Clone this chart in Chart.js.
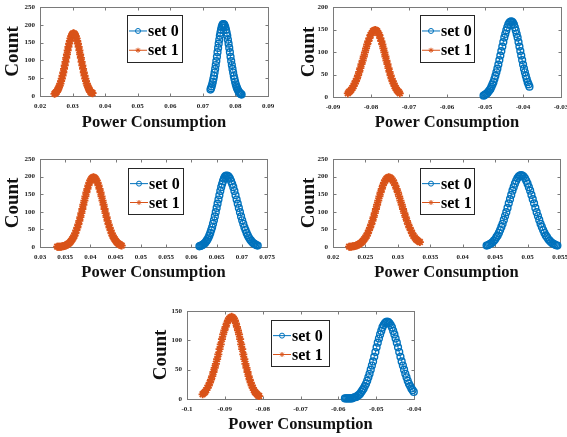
<!DOCTYPE html>
<html>
<head>
<meta charset="utf-8">
<script src="https://cdn.jsdelivr.net/npm/chart.js@4.4.1/dist/chart.umd.min.js"></script>
<style>
  html, body { margin: 0; padding: 0; background: #fff; }
  body { position: relative; width: 567px; height: 437px; overflow: hidden; }
  canvas { position: absolute; }
</style>
</head>
<body>
<canvas id="c1" width="285" height="135" style="left:0px;top:0px"></canvas>
<canvas id="c2" width="282" height="135" style="left:285px;top:0px"></canvas>
<canvas id="c3" width="285" height="145" style="left:0px;top:140px"></canvas>
<canvas id="c4" width="282" height="145" style="left:285px;top:140px"></canvas>
<canvas id="c5" width="290" height="147" style="left:140px;top:290px"></canvas>
<script>
// series labels and axis titles
const seriesLabels = ['set 0', 'set 1'];
const xTitle = 'Power Consumption';
const yTitle = 'Count';

// panel 1 (top left)
const p1Set0X = [0.07234, 0.07252, 0.07270, 0.07288, 0.07306, 0.07324, 0.07342, 0.07360, 0.07378, 0.07396, 0.07414, 0.07432, 0.07450, 0.07468, 0.07486, 0.07504, 0.07522, 0.07540, 0.07558, 0.07576, 0.07594, 0.07612,
    0.07630, 0.07650, 0.07670, 0.07690, 0.07710, 0.07730, 0.07750, 0.07770, 0.07790, 0.07810, 0.07830, 0.07850, 0.07870, 0.07890, 0.07910, 0.07930, 0.07950, 0.07970, 0.07990, 0.08010, 0.08030, 0.08050, 0.08070, 0.08090, 0.08110, 0.08130, 0.08150, 0.08170, 0.08190];
const p1Set0Y = [18, 22, 27, 33, 40, 48, 56, 66, 76, 87, 98, 110, 123, 135, 147, 158, 169, 178, 186, 193, 198, 201,
    202, 201, 198, 193, 186, 178, 169, 158, 147, 135, 123, 110, 98, 87, 76, 66, 56, 48, 40, 33, 27, 22, 18, 14, 11, 9, 7, 5, 4];
const p1Set1X = [0.02445, 0.024675, 0.0249, 0.025125, 0.02535, 0.025575, 0.0258, 0.026025, 0.02625, 0.026475, 0.0267, 0.026925, 0.02715, 0.027375, 0.0276, 0.027825, 0.02805, 0.028275, 0.0285, 0.028725, 0.02895, 0.029175, 0.0294, 0.029625, 0.02985, 0.030075,
    0.0303, 0.030525, 0.03075, 0.030975, 0.0312, 0.031425, 0.03165, 0.031875, 0.0321, 0.032325, 0.03255, 0.032775, 0.033, 0.033225, 0.03345, 0.033675, 0.0339, 0.034125, 0.03435, 0.034575, 0.0348, 0.035025, 0.03525, 0.035475, 0.0357, 0.035925, 0.03615];
const p1Set1Y = [6, 8, 10, 12, 16, 19, 24, 29, 35, 42, 49, 57, 66, 76, 86, 96, 107, 117, 128, 138, 147, 155, 162, 168, 172, 175,
    176, 175, 172, 168, 162, 155, 147, 138, 128, 117, 107, 96, 86, 76, 66, 57, 49, 42, 35, 29, 24, 19, 16, 12, 10, 9, 8];

// panel 2 (top right)
const p2Set0X = [-0.05038, -0.05012, -0.04986, -0.04960, -0.04934, -0.04908, -0.04882, -0.04856, -0.04830, -0.04804, -0.04778, -0.04752, -0.04726, -0.04700, -0.04674, -0.04648, -0.04622, -0.04596, -0.04570, -0.04544, -0.04518, -0.04492, -0.04466, -0.04440, -0.04414, -0.04388, -0.04362, -0.04336,
    -0.04310, -0.04286, -0.04262, -0.04238, -0.04214, -0.04190, -0.04166, -0.04142, -0.04118, -0.04094, -0.04070, -0.04046, -0.04022, -0.03998, -0.03974, -0.03950, -0.03926, -0.03902, -0.03878, -0.03854, -0.03830];
const p2Set0Y = [3, 4, 6, 7, 9, 12, 15, 18, 23, 28, 33, 40, 47, 55, 63, 72, 82, 92, 102, 112, 122, 132, 140, 148, 155, 161, 165, 167,
    168, 167, 165, 161, 155, 148, 140, 132, 122, 112, 102, 92, 82, 72, 63, 55, 47, 40, 33, 28, 23];
const p2Set1X = [-0.0861, -0.0858, -0.0855, -0.0852, -0.0849, -0.0846, -0.0843, -0.0840, -0.0837, -0.0834, -0.0831, -0.0828, -0.0825, -0.0822, -0.0819, -0.0816, -0.0813, -0.0810, -0.0807, -0.0804, -0.0801, -0.0798, -0.0795, -0.0792,
    -0.0789, -0.07863, -0.07836, -0.07809, -0.07782, -0.07755, -0.07728, -0.07701, -0.07674, -0.07647, -0.07620, -0.07593, -0.07566, -0.07539, -0.07512, -0.07485, -0.07458, -0.07431, -0.07404, -0.07377, -0.07350, -0.07323, -0.07296, -0.07269, -0.07242];
const p2Set1Y = [8, 11, 13, 16, 20, 24, 30, 35, 41, 48, 56, 64, 73, 81, 90, 99, 108, 117, 124, 131, 138, 142, 146, 148,
    149, 148, 146, 142, 138, 131, 124, 117, 108, 99, 90, 81, 73, 64, 56, 48, 41, 35, 30, 24, 20, 16, 13, 11, 8];

// panel 3 (middle left)
const p3Set0X = [0.06160, 0.06178, 0.06196, 0.06214, 0.06232, 0.06250, 0.06268, 0.06286, 0.06304, 0.06322, 0.06340, 0.06358, 0.06376, 0.06394, 0.06412, 0.06430, 0.06448, 0.06466, 0.06484, 0.06502, 0.06520, 0.06538, 0.06556, 0.06574, 0.06592, 0.06610, 0.06628, 0.06646, 0.06664, 0.06682,
    0.06700, 0.06722, 0.06744, 0.06766, 0.06788, 0.06810, 0.06832, 0.06854, 0.06876, 0.06898, 0.06920, 0.06942, 0.06964, 0.06986, 0.07008, 0.07030, 0.07052, 0.07074, 0.07096, 0.07118, 0.07140, 0.07162, 0.07184, 0.07206, 0.07228, 0.07250, 0.07272, 0.07294, 0.07316];
const p3Set0Y = [2, 3, 4, 5, 7, 9, 11, 14, 18, 22, 27, 33, 40, 48, 56, 66, 76, 87, 99, 111, 123, 135, 147, 159, 170, 179, 187, 194, 199, 202,
    203, 202, 199, 194, 187, 179, 170, 159, 147, 135, 123, 111, 99, 87, 76, 66, 56, 48, 40, 33, 27, 22, 18, 14, 11, 9, 7, 5, 4];
const p3Set1X = [0.0334, 0.0336, 0.0338, 0.0340, 0.0342, 0.0344, 0.0346, 0.0348, 0.0350, 0.0352, 0.0354, 0.0356, 0.0358, 0.0360, 0.0362, 0.0364, 0.0366, 0.0368, 0.0370, 0.0372, 0.0374, 0.0376, 0.0378, 0.0380, 0.0382, 0.0384, 0.0386, 0.0388, 0.0390, 0.0392, 0.0394, 0.0396, 0.0398, 0.0400, 0.0402, 0.0404,
    0.0406, 0.0408, 0.0410, 0.0412, 0.0414, 0.0416, 0.0418, 0.0420, 0.0422, 0.0424, 0.0426, 0.0428, 0.0430, 0.0432, 0.0434, 0.0436, 0.0438, 0.0440, 0.0442, 0.0444, 0.0446, 0.0448, 0.0450, 0.0452, 0.0454, 0.0456, 0.0458, 0.0460, 0.0462];
const p3Set1Y = [1, 1, 1, 1, 1, 2, 2, 3, 4, 5, 7, 9, 11, 14, 18, 22, 27, 32, 39, 47, 55, 64, 74, 85, 96, 108, 120, 132, 144, 155, 165, 175, 183, 189, 194, 197,
    198, 197, 194, 189, 183, 175, 165, 155, 144, 132, 120, 108, 96, 85, 74, 64, 55, 47, 39, 32, 27, 22, 18, 14, 11, 9, 7, 5, 4];

// panel 4 (middle right)
const p4Set0X = [0.04368, 0.04387, 0.04406, 0.04425, 0.04444, 0.04463, 0.04482, 0.04501, 0.04520, 0.04539, 0.04558, 0.04577, 0.04596, 0.04615, 0.04634, 0.04653, 0.04672, 0.04691, 0.04710, 0.04729, 0.04748, 0.04767, 0.04786, 0.04805, 0.04824, 0.04843, 0.04862, 0.04881,
    0.04900, 0.04920, 0.04940, 0.04960, 0.04980, 0.05000, 0.05020, 0.05040, 0.05060, 0.05080, 0.05100, 0.05120, 0.05140, 0.05160, 0.05180, 0.05200, 0.05220, 0.05240, 0.05260, 0.05280, 0.05300, 0.05320, 0.05340, 0.05360, 0.05380, 0.05400, 0.05420, 0.05440, 0.05460];
const p4Set0Y = [4, 5, 7, 9, 11, 14, 18, 22, 28, 33, 40, 48, 57, 66, 77, 88, 99, 111, 124, 136, 148, 160, 170, 180, 188, 195, 200, 203,
    204, 203, 200, 195, 188, 180, 170, 160, 148, 136, 124, 111, 99, 88, 77, 66, 57, 48, 40, 33, 28, 22, 18, 14, 11, 9, 7, 5, 4];
const p4Set1X = [0.02248, 0.02266, 0.02284, 0.02302, 0.02320, 0.02338, 0.02356, 0.02374, 0.02392, 0.02410, 0.02428, 0.02446, 0.02464, 0.02482, 0.02500, 0.02518, 0.02536, 0.02554, 0.02572, 0.02590, 0.02608, 0.02626, 0.02644, 0.02662, 0.02680, 0.02698, 0.02716, 0.02734, 0.02752, 0.02770, 0.02788, 0.02806, 0.02824, 0.02842,
    0.02860, 0.02880, 0.02900, 0.02920, 0.02940, 0.02960, 0.02980, 0.03000, 0.03020, 0.03040, 0.03060, 0.03080, 0.03100, 0.03120, 0.03140, 0.03160, 0.03180, 0.03200, 0.03220, 0.03240, 0.03260, 0.03280, 0.03300, 0.03320, 0.03340];
const p4Set1Y = [1, 1, 1, 2, 2, 3, 4, 5, 7, 9, 11, 14, 18, 22, 27, 32, 39, 47, 55, 64, 74, 85, 96, 108, 120, 132, 144, 155, 165, 175, 183, 189, 194, 197,
    198, 197, 194, 189, 183, 175, 165, 155, 144, 132, 120, 108, 96, 85, 74, 64, 55, 47, 39, 32, 27, 22, 19, 16, 14];

// panel 5 (bottom)
const p5Set0X = [-0.05826, -0.05795, -0.05764, -0.05733, -0.05702, -0.05671, -0.05640, -0.05609, -0.05578, -0.05547, -0.05516, -0.05485, -0.05454, -0.05423, -0.05392, -0.05361, -0.05330, -0.05299, -0.05268, -0.05237, -0.05206, -0.05175, -0.05144, -0.05113, -0.05082, -0.05051, -0.05020, -0.04989, -0.04958, -0.04927, -0.04896, -0.04865, -0.04834, -0.04803, -0.04772, -0.04741,
    -0.04710, -0.04678, -0.04646, -0.04614, -0.04582, -0.04550, -0.04518, -0.04486, -0.04454, -0.04422, -0.04390, -0.04358, -0.04326, -0.04294, -0.04262, -0.04230, -0.04198, -0.04166, -0.04134, -0.04102, -0.04070, -0.04038, -0.04006];
const p5Set0Y = [1, 1, 1, 1, 1, 1, 1, 2, 3, 3, 4, 6, 7, 9, 12, 15, 18, 22, 26, 31, 37, 43, 50, 57, 64, 72, 80, 88, 96, 103, 110, 116, 122, 126, 129, 131,
    132, 131, 129, 126, 122, 116, 110, 103, 96, 88, 80, 72, 64, 57, 50, 43, 37, 31, 26, 22, 18, 15, 12];
const p5Set1X = [-0.09588, -0.09556, -0.09524, -0.09492, -0.09460, -0.09428, -0.09396, -0.09364, -0.09332, -0.09300, -0.09268, -0.09236, -0.09204, -0.09172, -0.09140, -0.09108, -0.09076, -0.09044, -0.09012, -0.08980, -0.08948, -0.08916, -0.08884, -0.08852,
    -0.08820, -0.08792, -0.08764, -0.08736, -0.08708, -0.08680, -0.08652, -0.08624, -0.08596, -0.08568, -0.08540, -0.08512, -0.08484, -0.08456, -0.08428, -0.08400, -0.08372, -0.08344, -0.08316, -0.08288, -0.08260, -0.08232, -0.08204, -0.08176, -0.08148, -0.08120, -0.08092];
const p5Set1Y = [8, 10, 12, 15, 19, 23, 28, 33, 39, 46, 53, 60, 68, 76, 85, 93, 102, 110, 117, 123, 129, 134, 137, 139,
    140, 139, 137, 134, 129, 123, 117, 110, 102, 93, 85, 76, 68, 60, 53, 46, 39, 33, 28, 23, 19, 15, 12, 10, 8, 6, 5];

// axis ranges per panel: [xMin, xMax, xStep, yMax]
const p1Axis = [0.02, 0.09, 0.01, 250];
const p2Axis = [-0.09, -0.03, 0.01, 200];
const p3Axis = [0.03, 0.075, 0.005, 250];
const p4Axis = [0.02, 0.055, 0.005, 250];
const p5Axis = [-0.1, -0.04, 0.01, 150];

const blue = '#0072BD';
const orange = '#D95319';
const serif = '"Liberation Serif", "Times New Roman", serif';

// layout: canvas id, plot area [left, top, right, bottom], legend box [x, y, w, h], y-title pad
const panels = [
    { id: 'c1', axis: p1Axis, s0: [p1Set0X, p1Set0Y], s1: [p1Set1X, p1Set1Y], area: [40, 7, 268, 96], legend: [127, 15, 55, 47], yPad: 2 },
    { id: 'c2', axis: p2Axis, s0: [p2Set0X, p2Set0Y], s1: [p2Set1X, p2Set1Y], area: [48, 7, 276, 97], legend: [135, 15, 54, 47], yPad: 13 },
    { id: 'c3', axis: p3Axis, s0: [p3Set0X, p3Set0Y], s1: [p3Set1X, p3Set1Y], area: [40, 19, 267, 107], legend: [128, 28, 55, 46], yPad: 2 },
    { id: 'c4', axis: p4Axis, s0: [p4Set0X, p4Set0Y], s1: [p4Set1X, p4Set1Y], area: [48, 19, 275, 107], legend: [135, 28, 54, 46], yPad: 13 },
    { id: 'c5', axis: p5Axis, s0: [p5Set0X, p5Set0Y], s1: [p5Set1X, p5Set1Y], area: [47, 21, 274, 109], legend: [131, 30, 58, 46], yPad: 10 }
];

function toPoints(xs, ys) {
    return xs.map((x, i) => ({ x: x, y: ys[i] }));
}

function drawMarker(ctx, style, x, y, r) {
    ctx.beginPath();
    if (style === 'circle') {
        ctx.arc(x, y, r, 0, Math.PI * 2);
    } else {
        for (let k = 0; k < 4; k++) {
            const a = k * Math.PI / 4;
            ctx.moveTo(x - r * Math.cos(a), y - r * Math.sin(a));
            ctx.lineTo(x + r * Math.cos(a), y + r * Math.sin(a));
        }
    }
    ctx.stroke();
}

// matlab-like box with inner ticks + legend inside the axes
const boxPlugin = {
    id: 'matlabBox',
    beforeDatasetsDraw(chart) {
        const { ctx, chartArea: a, scales } = chart;
        ctx.save();
        ctx.strokeStyle = '#7a7a7a';
        ctx.lineWidth = 1;
        const l = Math.round(a.left) + 0.5, t = Math.round(a.top) + 0.5;
        const r = Math.round(a.right) + 0.5, b = Math.round(a.bottom) + 0.5;
        ctx.strokeRect(l, t, r - l, b - t);
        ctx.beginPath();
        scales.x.ticks.forEach(tk => {
            const px = Math.round(scales.x.getPixelForValue(tk.value)) + 0.5;
            ctx.moveTo(px, b); ctx.lineTo(px, b - 3);
            ctx.moveTo(px, t); ctx.lineTo(px, t + 3);
        });
        scales.y.ticks.forEach(tk => {
            const py = Math.round(scales.y.getPixelForValue(tk.value)) + 0.5;
            ctx.moveTo(l, py); ctx.lineTo(l + 3, py);
            ctx.moveTo(r, py); ctx.lineTo(r - 3, py);
        });
        ctx.stroke();
        ctx.restore();
    },
    afterDraw(chart, args, opts) {
        const ctx = chart.ctx;
        const [lx, ly, w, h] = opts.box;
        ctx.save();
        ctx.fillStyle = '#fff';
        ctx.fillRect(lx, ly, w, h);
        ctx.strokeStyle = '#262626';
        ctx.lineWidth = 1;
        ctx.strokeRect(lx + 0.5, ly + 0.5, w, h);
        const rows = [ly + h * 0.34, ly + h * 0.75];
        chart.data.datasets.forEach((ds, i) => {
            const y = rows[i];
            ctx.strokeStyle = ds.borderColor;
            ctx.lineWidth = 1;
            ctx.beginPath();
            ctx.moveTo(lx + 2, y); ctx.lineTo(lx + 20, y);
            ctx.stroke();
            drawMarker(ctx, ds.pointStyle, lx + 11, y, 2.5);
            ctx.fillStyle = '#000';
            ctx.font = 'bold 16px ' + serif;
            ctx.textBaseline = 'middle';
            ctx.textAlign = 'left';
            ctx.fillText(ds.label, lx + 21, y + 1);
        });
        ctx.restore();
    }
};

function tickFont() {
    return { family: serif, size: 7, weight: 'bold' };
}

panels.forEach(p => {
    const canvas = document.getElementById(p.id);
    const [xMin, xMax, xStep, yMax] = p.axis;
    const [left, top, right, bottom] = p.area;
    new Chart(canvas, {
        type: 'scatter',
        data: {
            datasets: [{
                label: seriesLabels[0],
                data: toPoints(p.s0[0], p.s0[1]),
                showLine: true,
                borderColor: blue,
                borderWidth: 1,
                pointStyle: 'circle',
                pointRadius: 3.4,
                pointBorderWidth: 1.4,
                pointBorderColor: blue,
                pointBackgroundColor: 'rgba(0,0,0,0)',
                clip: false
            }, {
                label: seriesLabels[1],
                data: toPoints(p.s1[0], p.s1[1]),
                showLine: true,
                borderColor: orange,
                borderWidth: 1,
                pointStyle: 'star',
                pointRadius: 4,
                pointBorderWidth: 1.8,
                pointBorderColor: orange,
                pointBackgroundColor: orange,
                clip: false
            }]
        },
        options: {
            responsive: false,
            animation: false,
            events: [],
            layout: { padding: { left: 0, top: top, right: canvas.width - right, bottom: 0 } },
            plugins: {
                legend: { display: false },
                tooltip: { enabled: false },
                matlabBox: { box: p.legend }
            },
            scales: {
                x: {
                    type: 'linear',
                    min: xMin,
                    max: xMax,
                    grid: { display: false, drawTicks: false },
                    border: { display: false },
                    ticks: {
                        stepSize: xStep,
                        autoSkip: false,
                        maxRotation: 0,
                        padding: 6,
                        color: '#222',
                        font: tickFont(),
                        callback: v => String(parseFloat(Number(v).toFixed(4)))
                    },
                    title: {
                        display: true,
                        text: xTitle,
                        color: '#111',
                        padding: { top: 0, bottom: 2 },
                        font: { family: serif, size: 16.5, weight: 'bold' }
                    },
                    afterFit: s => {
                        s.height = canvas.height - bottom;
                        s.paddingLeft = 0;
                        s.paddingRight = 0;
                    }
                },
                y: {
                    type: 'linear',
                    min: 0,
                    max: yMax,
                    grid: { display: false, drawTicks: false },
                    border: { display: false },
                    ticks: {
                        stepSize: 50,
                        padding: 5,
                        color: '#222',
                        font: tickFont()
                    },
                    title: {
                        display: true,
                        text: yTitle,
                        color: '#111',
                        padding: { top: p.yPad, bottom: 0 },
                        font: { family: serif, size: 19, weight: 'bold' }
                    },
                    afterFit: s => {
                        s.width = left;
                        s.paddingTop = 0;
                        s.paddingBottom = 0;
                    }
                }
            }
        },
        plugins: [boxPlugin]
    });
});
</script>
</body>
</html>
